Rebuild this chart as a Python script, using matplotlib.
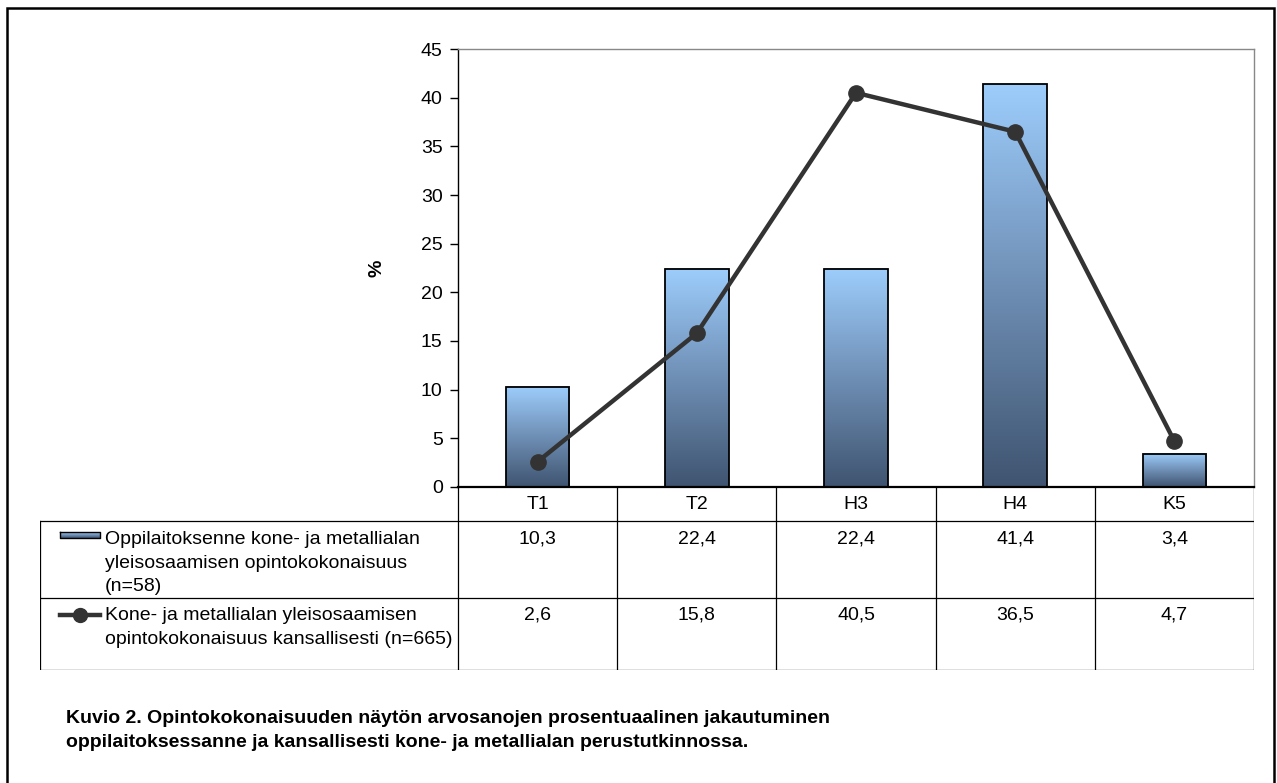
import numpy as np
import matplotlib
matplotlib.use("Agg")
import matplotlib.pyplot as plt
from matplotlib.colors import LinearSegmentedColormap

plt.rcParams['font.family'] = ['Liberation Sans', 'DejaVu Sans']
plt.rcParams['font.size'] = 14

# --- data ---
categories = ["T1", "T2", "H3", "H4", "K5"]
school_vals = [10.3, 22.4, 22.4, 41.4, 3.4]
national_vals = [2.6, 15.8, 40.5, 36.5, 4.7]
school_label = "Oppilaitoksenne kone- ja metallialan\nyleisosaamisen opintokokonaisuus\n(n=58)"
national_label = "Kone- ja metallialan yleisosaamisen\nopintokokonaisuus kansallisesti (n=665)"
caption = ("Kuvio 2. Opintokokonaisuuden näytön arvosanojen prosentuaalinen jakautuminen\n"
           "oppilaitoksessanne ja kansallisesti kone- ja metallialan perustutkinnossa.")
y_ticks = [0, 5, 10, 15, 20, 25, 30, 35, 40, 45]

FS = 14

def fmt(v):
    return f"{v:.1f}".replace(".", ",")

W, H = 1277, 783
fig = plt.figure(figsize=(W / 100, H / 100), dpi=100)
fig.patch.set_facecolor("white")

def box(l, t, r, b):
    return [l / W, 1 - b / H, (r - l) / W, (b - t) / H]

# outer frame (bottom edge lies below the image)
frame = fig.add_axes([0, 0, 1, 1])
frame.set_xlim(0, W)
frame.set_ylim(H, 0)
frame.axis("off")
frame.plot([7, 7, 1274, 1274], [H + 5, 8, 8, H + 5], color="black", lw=1.8,
           solid_joinstyle="miter")

grad_cmap = LinearSegmentedColormap.from_list("bar", ["#3f5470", "#6f8fb5", "#9dcdfc"])
grad = np.linspace(0, 1, 256).reshape(-1, 1)

# --- chart ---
L, R, T, B = 458, 1254, 49, 487
ax = fig.add_axes(box(L, T, R, B))
x = np.arange(len(categories))
bw = 0.4
for xi, v in zip(x, school_vals):
    ax.imshow(grad, extent=[xi - bw / 2, xi + bw / 2, 0, v], origin="lower",
              cmap=grad_cmap, aspect="auto", zorder=2)
ax.bar(x, school_vals, width=bw, fill=False, edgecolor="black", lw=1.3, zorder=3)
ax.plot(x, national_vals, color="#333333", lw=3.2, marker="o", ms=11, zorder=4)

ax.set_xlim(-0.5, len(categories) - 0.5)
ax.set_ylim(0, 45)
ax.set_yticks(y_ticks)
ax.set_xticks([])
ax.tick_params(axis="y", direction="out", length=6, width=1, pad=5, labelsize=FS)
ax.set_ylabel("%", fontweight="bold", fontsize=FS)
ax.yaxis.set_label_coords((385 - L) / (R - L), 0.5)
for s in ["top", "right"]:
    ax.spines[s].set_color("#888888")
    ax.spines[s].set_linewidth(1)
ax.spines["left"].set_linewidth(1)
ax.spines["bottom"].set_linewidth(1.6)

# --- data table below the chart ---
TL, TB = 40, 670
row1, row2 = 521, 598
tab = fig.add_axes(box(TL, B, R, TB))
tab.axis("off")
colw = (R - L) / len(categories)
edges = [L + k * colw for k in range(len(categories) + 1)]
lc = "black"
for e in edges:
    tab.plot([e, e], [B, TB], color=lc, lw=0.9)
tab.plot([TL, TL], [row1, TB], color=lc, lw=0.9)
for yy in [row1, row2, TB]:
    tab.plot([TL, R], [yy, yy], color=lc, lw=0.9)

for i, c in enumerate(categories):
    cx = edges[i] + colw / 2
    tab.text(cx, 504, c, ha="center", va="center", fontsize=FS)
    tab.text(cx, 539, fmt(school_vals[i]), ha="center", va="center", fontsize=FS)
    tab.text(cx, 615, fmt(national_vals[i]), ha="center", va="center", fontsize=FS)

# legend keys in row headers
tab.imshow(grad, extent=[60, 100, 538, 532], origin="lower", cmap=grad_cmap,
           aspect="auto", zorder=2)
tab.plot([60, 100, 100, 60, 60], [532, 532, 538, 538, 532], color="black", lw=1)
tab.plot([60, 100], [615, 615], color="#333333", lw=3.2)
tab.plot([80], [615], marker="o", color="#333333", ms=10)
tab.text(105, 531, school_label, ha="left", va="top", fontsize=FS, linespacing=1.5)
tab.text(105, 607, national_label, ha="left", va="top", fontsize=FS, linespacing=1.5)

tab.set_xlim(TL, R)
tab.set_ylim(TB, B)

# caption
fig.text(66 / W, 1 - 710 / H, caption, ha="left", va="top", fontsize=FS,
         fontweight="bold", linespacing=1.55)

fig.savefig("out.png", dpi=100)
